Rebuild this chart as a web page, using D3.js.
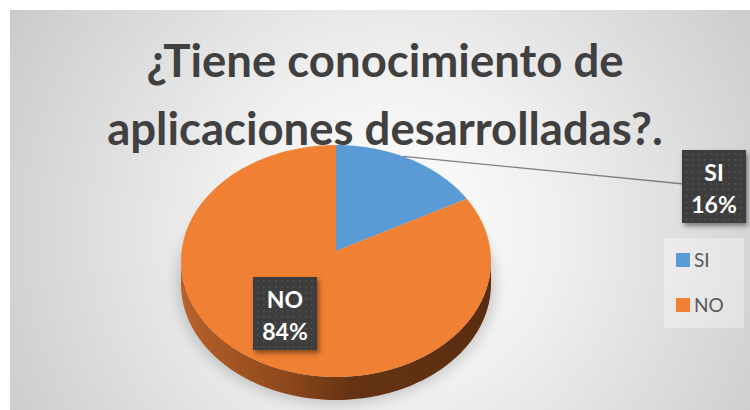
<!DOCTYPE html>
<html>
<head>
<meta charset="utf-8">
<script src="https://cdn.jsdelivr.net/npm/d3@7"></script>
<style>
  body { margin: 0; background: #fff; }
  svg { display: block; font-family: Lato, "Open Sans", sans-serif; }
</style>
</head>
<body>
<div id="chart"></div>
<script>
const TITLE_LINES = ["¿Tiene conocimiento de", "aplicaciones desarrolladas?."];
const CATEGORIES = ["SI", "NO"];
const VALUES = [16, 84];
const COLORS = ["#5b9bd5", "#f08033"];

const W = 750, H = 410;
const PIE = {cx: 336, cy: 261, rx: 155, ry: 116, depth: 23, apexLift: 10};

const svg = d3.select("#chart").append("svg")
              .attr("width", W)
              .attr("height", H);
const defs = svg.append("defs");

// background gradient
const bg = defs.append("radialGradient").attr("id", "bg")
               .attr("gradientUnits", "userSpaceOnUse")
               .attr("cx", 390).attr("cy", 230).attr("r", 470);
bg.append("stop").attr("offset", 0).attr("stop-color", "#ffffff");
bg.append("stop").attr("offset", 0.35).attr("stop-color", "#f0f0f0");
bg.append("stop").attr("offset", 1).attr("stop-color", "#c6c6c6");

// side of the pie
const side = defs.append("linearGradient").attr("id", "side")
                 .attr("gradientUnits", "userSpaceOnUse")
                 .attr("x1", PIE.cx - PIE.rx).attr("x2", PIE.cx + PIE.rx)
                 .attr("y1", 0).attr("y2", 0);
side.append("stop").attr("offset", 0).attr("stop-color", "#b8622a");
side.append("stop").attr("offset", 0.35).attr("stop-color", "#8c471b");
side.append("stop").attr("offset", 0.55).attr("stop-color", "#653313");
side.append("stop").attr("offset", 1).attr("stop-color", "#5a2d10");

defs.append("filter").attr("id", "blur")
    .attr("x", -0.2).attr("y", -0.2).attr("width", 1.4).attr("height", 1.4)
    .append("feGaussianBlur").attr("stdDeviation", 7);

const sh = defs.append("filter").attr("id", "shadow")
               .attr("x", -0.3).attr("y", -0.3).attr("width", 1.6).attr("height", 1.6);
sh.append("feDropShadow").attr("dx", 2).attr("dy", 3).attr("stdDeviation", 2.5)
  .attr("flood-color", "#000").attr("flood-opacity", 0.45);

const dots = defs.append("pattern").attr("id", "dots")
                 .attr("patternUnits", "userSpaceOnUse")
                 .attr("width", 6).attr("height", 6);
dots.append("rect").attr("width", 6).attr("height", 6).attr("fill", "#3d3d3d");
dots.append("rect").attr("x", 2).attr("y", 2).attr("width", 1.5).attr("height", 1.5).attr("fill", "#575757");

// chart area
svg.append("rect")
   .attr("x", 10).attr("y", 10)
   .attr("width", W - 10).attr("height", H - 10)
   .attr("fill", "url(#bg)");

// title
svg.append("g").selectAll("text")
   .data(TITLE_LINES)
   .enter()
   .append("text")
   .attr("x", 385)
   .attr("y", (d, i) => 77 + i * 68)
   .attr("text-anchor", "middle")
   .attr("font-size", 45.5)
   .attr("font-weight", "bold")
   .attr("fill", "#404040")
   .text(d => d);

// pie
const pie = d3.pie().sort(null).value(d => d)(VALUES);
const px = a => PIE.cx + PIE.rx * Math.sin(a);
const py = a => PIE.cy - PIE.ry * Math.cos(a);
const sample = (a0, a1) => d3.range(0, 91).map(j => a0 + (a1 - a0) * j / 90);
const line = d3.line();

// soft shadow under the pie
svg.append("ellipse")
   .attr("cx", PIE.cx).attr("cy", PIE.cy + PIE.depth)
   .attr("rx", PIE.rx + 4).attr("ry", PIE.ry + 4)
   .attr("fill", "#000").attr("opacity", 0.18)
   .attr("filter", "url(#blur)");

// visible side walls (front half of the ellipse)
pie.forEach(function(s, i){
    const a0 = Math.max(s.startAngle, Math.PI / 2);
    const a1 = Math.min(s.endAngle, Math.PI * 3 / 2);
    if (a1 <= a0) return;
    const steps = sample(a0, a1);
    const top = steps.map(a => [px(a), py(a)]);
    const bot = steps.slice().reverse().map(a => [px(a), py(a) + PIE.depth]);
    svg.append("path")
       .attr("d", line(top.concat(bot)) + "Z")
       .attr("fill", i === 1 ? "url(#side)" : d3.color(COLORS[i]).darker(1.2));
});

// top faces (apex slightly lifted, as in the perspective view)
const apex = [PIE.cx, PIE.cy - PIE.apexLift];
svg.append("g").selectAll("path")
   .data(pie)
   .enter()
   .append("path")
   .attr("d", s => line([apex].concat(sample(s.startAngle, s.endAngle).map(a => [px(a), py(a)]))) + "Z")
   .attr("fill", (d, i) => COLORS[i]);

// leader line for the outside label
const mid = s => (s.startAngle + s.endAngle) / 2;
const sa = mid(pie[0]);
svg.append("line")
   .attr("x1", PIE.cx + 0.9 * PIE.rx * Math.sin(sa))
   .attr("y1", PIE.cy - 1.03 * PIE.ry * Math.cos(sa))
   .attr("x2", 684).attr("y2", 184)
   .attr("stroke", "#7f7f7f").attr("stroke-width", 1.3);

// data labels
const labels = [
    {i: 1, x: 285, y: 314},
    {i: 0, x: 714, y: 187}
];
labels.forEach(function(l){
    const g = svg.append("g").attr("transform", "translate(" + l.x + "," + l.y + ")");
    g.append("rect")
     .attr("x", -32).attr("y", -37)
     .attr("width", 64).attr("height", 73)
     .attr("fill", "url(#dots)")
     .attr("filter", "url(#shadow)");
    g.append("text")
     .attr("text-anchor", "middle")
     .attr("y", -6)
     .attr("fill", "#fff").attr("font-weight", "bold").attr("font-size", 23)
     .text(CATEGORIES[l.i]);
    g.append("text")
     .attr("text-anchor", "middle")
     .attr("y", 26)
     .attr("fill", "#fff").attr("font-weight", "bold").attr("font-size", 23)
     .text(VALUES[l.i] + "%");
});

// legend
const legend = svg.append("g").attr("transform", "translate(664,238)");
legend.append("rect")
      .attr("width", 80).attr("height", 90)
      .attr("fill", "#ffffff").attr("opacity", 0.35);
const items = legend.selectAll("g.item")
                    .data(CATEGORIES)
                    .enter()
                    .append("g")
                    .attr("transform", (d, i) => "translate(12," + (15 + i * 45) + ")");
items.append("rect")
     .attr("width", 14).attr("height", 14)
     .attr("fill", (d, i) => COLORS[i]);
items.append("text")
     .attr("x", 18).attr("y", 14)
     .attr("font-size", 19).attr("fill", "#595959")
     .text(d => d);
</script>
</body>
</html>
